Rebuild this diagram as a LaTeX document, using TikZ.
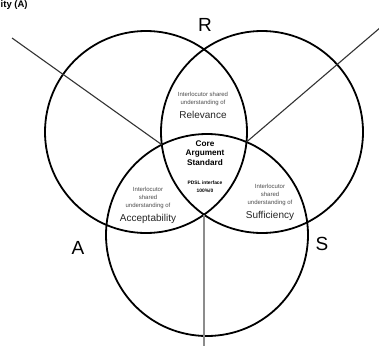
\documentclass[tikz,border=0pt]{standalone}
\usepackage{fontspec}
\setmainfont{Liberation Sans}
\begin{document}
\begin{tikzpicture}[x=1pt,y=-1pt,
  ring/.style={draw=black,line width=1.8pt},
  ray/.style={draw=black!80,line width=1.1pt},
  axis/.style={draw=black!45,line width=1.3pt},
  small/.style={text=black!70,font=\fontsize{6}{8}\selectfont,align=center,inner sep=0pt},
  big/.style={text=black!85,font=\fontsize{10}{11}\selectfont,inner sep=0pt},
  core/.style={font=\bfseries\fontsize{8.2}{9.6}\selectfont,align=center,inner sep=0pt},
  corer/.style={font=\bfseries\fontsize{4.9}{7.6}\selectfont,align=center,inner sep=0pt},
  letter/.style={font=\fontsize{19}{19}\selectfont,inner sep=0pt}]
\useasboundingbox (0,0) rectangle (379,345);
\fill[white] (0,0) rectangle (379,345);
% circles
\coordinate (cl) at (146,132);
\coordinate (cr) at (262,132);
\coordinate (cb) at (207,235);
\draw[ring] (cl) circle (101);
\draw[ring] (cr) circle (101);
\draw[ring] (cb) circle (101);
% intersection points and free ends
\coordinate (rb) at (161.8,144.7);
\coordinate (lb) at (246.5,142);
\coordinate (lr) at (204,214.7);
\coordinate (endL) at (12,38);
\coordinate (endR) at (381,27);
\coordinate (endB) at (204,347);
\draw[ray] (endL) -- (rb);
\draw[ray] (endR) -- (lb);
\draw[axis] (lr) -- (endB);
% letters
\node[letter] (R) at (205,25) {R};
\node[letter] (A) at (78,248) {A};
\node[letter] (S) at (322,244) {S};
% title fragment
\node[anchor=north west,font=\bfseries\fontsize{9.5}{9.5}\selectfont,inner sep=0pt] (ttl) at (0.5,0.3) {ity (A)};
% relevance
\node[small] (rel1) at (203,99) {Interlocutor shared\\understanding of};
\node[big] (rel2) at (203,114.5) {Relevance};
% core
\node[core] (core) at (205,153) {Core\\Argument\\Standard};
\node[corer] (pdsl) at (205,187) {PDSL interface\\100\%/0};
% acceptability
\node[small] (acc1) at (148,198) {Interlocutor\\shared\\understanding of};
\node[big] (acc2) at (148,218.5) {Acceptability};
% sufficiency
\node[small] (suf1) at (270,195) {Interlocutor\\shared\\understanding of};
\node[big] (suf2) at (270,216) {Sufficiency};
\end{tikzpicture}
\end{document}
